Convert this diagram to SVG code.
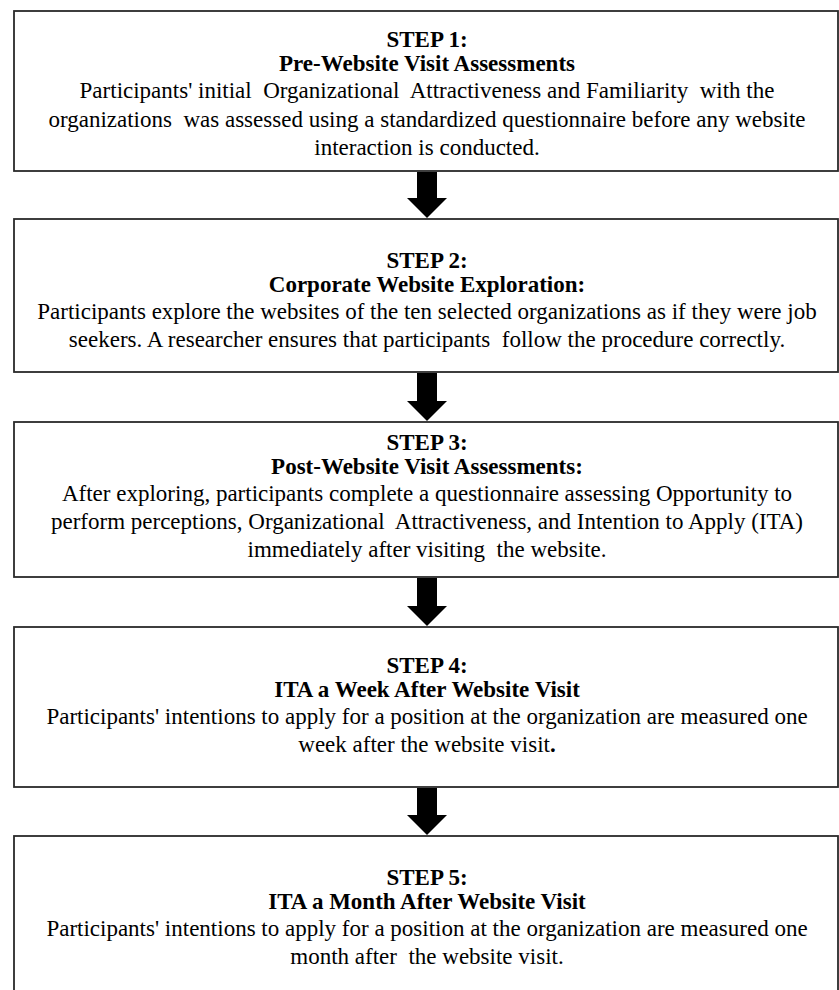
<svg xmlns="http://www.w3.org/2000/svg" width="839" height="990" viewBox="0 0 839 990">
<style>
.box{fill:#fff;stroke:#2a2a2a;stroke-width:1.8}
text{font-family:"Liberation Serif","Times New Roman",serif;font-size:23px;fill:#000;text-anchor:middle}
.h{font-weight:bold}
.arrow{fill:#000}
</style>
<rect width="839" height="990" fill="#fff"/>
<g id="step1">
<rect class="box" x="14" y="11" width="824" height="160"/>
<text class="h" x="427" y="47">STEP 1:</text>
<text class="h" x="427" y="71">Pre-Website Visit Assessments</text>
<text x="427" y="98" xml:space="preserve">Participants' initial  Organizational  Attractiveness and Familiarity  with the</text>
<text x="427" y="127" xml:space="preserve">organizations  was assessed using a standardized questionnaire before any website</text>
<text x="427" y="155">interaction is conducted.</text>
</g>
<g id="step2">
<rect class="box" x="14" y="219" width="824" height="153"/>
<text class="h" x="427" y="268">STEP 2:</text>
<text class="h" x="427" y="292">Corporate Website Exploration:</text>
<text x="427" y="319">Participants explore the websites of the ten selected organizations as if they were job</text>
<text x="427" y="347" xml:space="preserve">seekers. A researcher ensures that participants  follow the procedure correctly.</text>
</g>
<g id="step3">
<rect class="box" x="14" y="422" width="824" height="155"/>
<text class="h" x="427" y="450">STEP 3:</text>
<text class="h" x="427" y="474">Post-Website Visit Assessments:</text>
<text x="427" y="501">After exploring, participants complete a questionnaire assessing Opportunity to</text>
<text x="427" y="529" xml:space="preserve">perform perceptions, Organizational  Attractiveness, and Intention to Apply (ITA)</text>
<text x="427" y="557" xml:space="preserve">immediately after visiting  the website.</text>
</g>
<g id="step4">
<rect class="box" x="14" y="627" width="824" height="160"/>
<text class="h" x="427" y="673">STEP 4:</text>
<text class="h" x="427" y="697">ITA a Week After Website Visit</text>
<text x="427" y="724">Participants' intentions to apply for a position at the organization are measured one</text>
<text x="427" y="752">week after the website visit<tspan class="h">.</tspan></text>
</g>
<g id="step5">
<rect class="box" x="14" y="836" width="824" height="170"/>
<text class="h" x="427" y="885">STEP 5:</text>
<text class="h" x="427" y="909">ITA a Month After Website Visit</text>
<text x="427" y="936">Participants' intentions to apply for a position at the organization are measured one</text>
<text x="427" y="964" xml:space="preserve">month after  the website visit.</text>
</g>
<g id="connectors">
<polygon class="arrow" points="417,172 437,172 437,198 447,198 427,218 407,198 417,198"/>
<polygon class="arrow" points="417,373 437,373 437,401 447,401 427,421 407,401 417,401"/>
<polygon class="arrow" points="417,578 437,578 437,606 447,606 427,626 407,606 417,606"/>
<polygon class="arrow" points="417,788 437,788 437,815 447,815 427,835 407,815 417,815"/>
</g>
</svg>
